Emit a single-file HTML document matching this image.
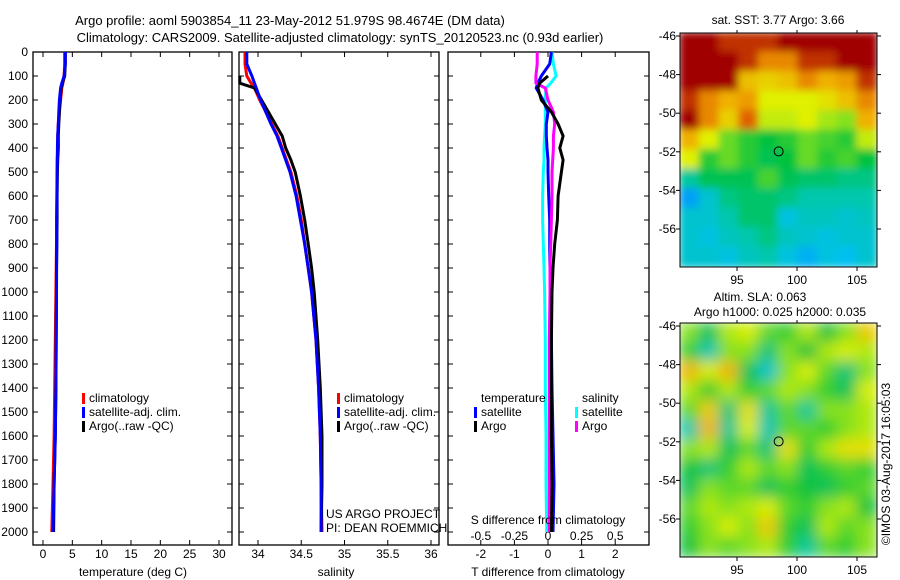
<!DOCTYPE html>
<html><head><meta charset="utf-8"><style>
html,body{margin:0;padding:0;background:#fff;}
svg{display:block;font-family:"Liberation Sans",sans-serif;}
text{font-size:12px;fill:#000;}
</style></head><body>
<svg id="c" width="900" height="580" viewBox="0 0 900 580">
<defs>
<filter id="blr1" x="0" y="0" width="1" height="1"><feGaussianBlur stdDeviation="4"/></filter>
<filter id="blr2" x="0" y="0" width="1" height="1"><feGaussianBlur stdDeviation="7"/></filter>
<clipPath id="cp1"><rect x="680" y="33" width="197" height="234"/></clipPath>
<clipPath id="cp2"><rect x="680" y="323" width="197" height="234"/></clipPath>
</defs>
<text x="290" y="25" text-anchor="middle" style="font-size:13px">Argo profile: aoml 5903854_11 23-May-2012 51.979S 98.4674E (DM data)</text>
<text x="340" y="42" text-anchor="middle" style="font-size:13px">Climatology: CARS2009. Satellite-adjusted climatology: synTS_20120523.nc (0.93d earlier)</text>
<g id="g"></g>
</svg>
<script>
const depths=[0,50,100,130,150,200,250,300,350,400,450,500,600,700,800,900,1000,1200,1400,1600,1800,2000];
const tempClim=[3.7,3.7,3.6,3.4,3.2,3.0,2.8,2.6,2.5,2.5,2.4,2.4,2.35,2.3,2.3,2.25,2.2,2.1,2.0,1.9,1.7,1.5];
const tempSat=[3.8,3.8,3.6,3.2,3.0,2.8,2.7,2.6,2.5,2.45,2.45,2.4,2.38,2.36,2.35,2.32,2.3,2.25,2.2,2.1,1.9,1.7];
const tempArgo=[3.8,3.8,3.7,3.3,3.1,2.9,2.8,2.7,2.6,2.6,2.5,2.45,2.4,2.4,2.35,2.3,2.3,2.25,2.2,2.1,1.9,1.8];
const salClim=[33.85,33.85,33.87,33.92,33.96,34.02,34.09,34.16,34.23,34.28,34.33,34.38,34.45,34.5,34.54,34.58,34.62,34.67,34.7,34.72,34.73,34.74];
const salSat=[33.87,33.87,33.93,33.96,33.98,34.03,34.09,34.15,34.22,34.27,34.32,34.37,34.44,34.49,34.54,34.58,34.62,34.67,34.7,34.72,34.73,34.73];
const salArgo=[null,null,33.79,33.79,33.96,34.04,34.12,34.2,34.28,34.32,34.38,34.43,34.49,34.54,34.58,34.62,34.65,34.69,34.72,34.74,34.74,34.73];
const tDiffSat=[0.1,0.05,-0.2,-0.3,-0.35,-0.15,0,-0.05,-0.05,-0.03,0,0,0.02,0.05,0.05,0.06,0.08,0.1,0.12,0.15,0.18,0.15];
const tDiffArgo=[null,null,0.0,-0.25,-0.3,-0.2,0.1,0.3,0.45,0.35,0.45,0.4,0.3,0.28,0.2,0.15,0.12,0.1,0.1,0.1,0.12,0.1];
const sDiffSat=[0.03,0.04,0.06,0.02,-0.015,-0.02,-0.02,-0.02,-0.025,-0.03,-0.03,-0.035,-0.04,-0.04,-0.035,-0.03,-0.025,-0.02,-0.02,-0.015,-0.015,-0.01];
const sDiffArgo=[-0.08,-0.08,-0.09,-0.09,-0.02,0.0,0.04,0.05,0.04,0.04,0.035,0.03,0.03,0.025,0.02,0.015,0.015,0.01,0.01,0.01,0.01,0.01];
const depthTicks=[0,100,200,300,400,500,600,700,800,900,1000,1100,1200,1300,1400,1500,1600,1700,1800,1900,2000];
const tempTicks=[0,5,10,15,20,25,30];
const salTicks=[34,34.5,35,35.5,36];
const salTickLabels=["34","34.5","35","35.5","36"];
const tdTicks=[-2,-1,0,1,2];
const sdTicks=[-0.5,-0.25,0,0.25,0.5];
const sdTickLabels=["-0.5","-0.25","0","0.25","0.5"];
const latTicks=[-46,-48,-50,-52,-54,-56];
const lonTicks=[95,100,105];
const sstGrid=[
[6,6,5,5,5,5.2,5.5,6,6,6],
[6,5.2,6,5,4.6,4.6,5,5,5.3,6],
[6,6,5.5,4.3,4.2,4.3,4.6,4.4,4.5,5],
[5,4.6,4.4,4.5,4,4,4,4.1,4.3,4.6],
[5.3,4.6,4.2,4.8,3.9,3.9,4,3.8,3.7,4.4],
[4.4,4,3.6,3.4,3.3,3.4,3.6,3.5,3.4,3.9],
[4,3.4,3.6,3.4,3.2,3.3,3.6,3.4,3.5,3.3],
[2.9,3.2,3.2,3.2,3.5,3.2,3.1,3.1,3,3],
[2.2,2.6,3.0,3.1,3.1,3.0,2.8,2.8,2.8,2.8],
[2.6,2.6,2.8,3.1,3.1,2.5,2.7,2.7,2.6,2.7],
[2.6,2.5,2.7,2.8,3.0,2.7,2.6,2.5,2.6,2.6],
[2.6,2.6,2.5,2.7,2.8,2.5,2.3,2.5,2.4,2.6]];
const slaGrid=[
[0.2,-0.2,0.3,0.4,0.1,0,0.3,-0.1,0.2,0.6],
[0,-0.5,0.2,0.2,-0.3,0.2,-0.1,0.3,0.4,0.3],
[0.7,0.4,0.7,-0.2,-0.6,0.2,0.4,0.1,-0.3,0.2],
[0.3,0,0.3,0,0.1,0.3,0.2,0,-0.2,0.4],
[0.1,0.6,-0.3,0.5,-0.4,0.1,-0.4,0.2,0.2,0.3],
[-0.5,0.7,-0.4,0.4,-0.5,0.1,0.1,0,0.2,0.3],
[0.2,0.3,-0.2,0.1,-0.3,0.5,0,0.3,0.5,0.5],
[-0.1,-0.3,0,0.3,0.1,0.2,-0.2,0,0.1,0],
[-0.2,0.2,0.1,0.1,-0.2,0,-0.1,-0.2,0,0.1],
[0.1,0.3,0.2,0.3,0.4,0.1,0,0.2,0.3,-0.1],
[0,0.2,0.4,0.2,0.6,0,-0.2,0.3,0.1,0.2],
[-0.1,0.2,0.1,0.2,0.3,0,-0.4,0.1,0,0.2]];
const floatLon=[98.47];
const floatLat=[-51.98];

const NS='http://www.w3.org/2000/svg';
const G=document.getElementById('g');
function mk(tag,attrs,parent){const e=document.createElementNS(NS,tag);for(const k in attrs)e.setAttribute(k,attrs[k]);(parent||G).appendChild(e);return e;}
function txt(x,y,s,anchor,parent){const t=mk('text',{x:x,y:y,'text-anchor':anchor||'start'},parent);t.textContent=s;return t;}
const yD=d=>52+d*0.24;
const xT=v=>43+v*(176/30);
const xS=v=>258+(v-34)*86.5;
const xTD=v=>548+v*33.6;
const xSD=v=>548+v*134.4;

function frame(x0,x1,name){
  const r=mk('rect',{x:x0,y:52,width:x1-x0,height:493,fill:'none',stroke:'#000','stroke-width':1.3});
  
  
  depthTicks.forEach(d=>{mk('line',{x1:x0,x2:x0+5,y1:yD(d),y2:yD(d),stroke:'#000'});mk('line',{x1:x1,x2:x1-5,y1:yD(d),y2:yD(d),stroke:'#000'});});
}
function xticks(vals,fx,labels,y){vals.forEach((v,i)=>{const x=fx(v);mk('line',{x1:x,x2:x,y1:52,y2:57,stroke:'#000'});mk('line',{x1:x,x2:x,y1:545,y2:540,stroke:'#000'});if(labels){const t=txt(x,y,labels[i],'middle');}});}
function line(vals,fx,color,name,w){
  const pts=[];vals.forEach((v,i)=>{if(v!==null)pts.push(fx(v).toFixed(1)+','+yD(depths[i]).toFixed(1));});
  const p=mk('polyline',{points:pts.join(' '),fill:'none',stroke:color,'stroke-width':w||3,'stroke-linejoin':'round'});
  
  
}
function legend(x,y,color,label){
  mk('rect',{x:x,y:y-9,width:3,height:11,fill:color});
  const t=txt(x+7,y,label);
  
  
}

frame(33,232,'temperature-panel');
depthTicks.forEach(d=>{const t=txt(28,yD(d)+4,String(d),'end');});
xticks(tempTicks,xT,tempTicks.map(String),558);
line(tempClim,xT,'#f00','temp-climatology-line');
line(tempArgo,xT,'#000','temp-argo-line');
line(tempSat,xT,'#00f','temp-satellite-line');
legend(82,402,'#f00','climatology');legend(82,416,'#00f','satellite-adj. clim.');legend(82,430,'#000','Argo(..raw -QC)');
let t=txt(133,576,'temperature (deg C)','middle');

frame(239,439,'salinity-panel');
xticks(salTicks,xS,salTickLabels,558);
line(salClim,xS,'#f00','sal-climatology-line');
line(salArgo,xS,'#000','sal-argo-line');
line(salSat,xS,'#00f','sal-satellite-line');
legend(337,402,'#f00','climatology');legend(337,416,'#00f','satellite-adj. clim.');legend(337,430,'#000','Argo(..raw -QC)');
t=txt(336,576,'salinity','middle');
t=txt(326,518,'US ARGO PROJECT');
t=txt(326,532,'PI: DEAN ROEMMICH');

frame(448,649,'difference-panel');
xticks(tdTicks,xTD,tdTicks.map(String),558);
sdTicks.forEach((v,i)=>{t=txt(xSD(v),540,sdTickLabels[i],'middle');});
line(sDiffSat,xSD,'#0ff','s-diff-satellite-line');
line(tDiffSat,xTD,'#00f','t-diff-satellite-line');
line(sDiffArgo,xSD,'#f0f','s-diff-argo-line');
line(tDiffArgo,xTD,'#000','t-diff-argo-line');
t=txt(481,402,'temperature');
t=txt(582,402,'salinity');
legend(474,416,'#00f','satellite');legend(474,430,'#000','Argo');legend(575,416,'#0ff','satellite');legend(575,430,'#f0f','Argo');
t=txt(548,524,'S difference from climatology','middle');
t=txt(548,576,'T difference from climatology','middle');

const stops=[[0,[0,0,160]],[0.15,[0,96,255]],[0.3,[0,192,240]],[0.42,[0,200,160]],[0.52,[0,192,64]],[0.62,[128,224,32]],[0.7,[224,240,0]],[0.8,[240,176,0]],[0.9,[224,96,0]],[1,[160,0,0]]];
function cmap(tv){tv=Math.max(0,Math.min(1,tv));for(let i=1;i<stops.length;i++){if(tv<=stops[i][0]){const a=stops[i-1],b=stops[i],f=(tv-a[0])/(b[0]-a[0]);const c=a[1].map((v,k)=>Math.round(v+(b[1][k]-v)*f));return 'rgb('+c.join(',')+')';}}return 'rgb(160,0,0)';}

function map(y0,grid,tf,name,clip,filt){
  const x0=680,w=197,h=234;
  const lonX=v=>x0+(v-90.25)*12.0;
  const latY=v=>y0+3+(-46-v)*19.3;
  const g=mk('g',{'clip-path':'url(#'+clip+')'});
  
  
  const gi=mk('g',{filter:'url(#'+filt+')'},g);
  mk('rect',{x:x0,y:y0,width:w,height:h,fill:cmap(tf(grid[6][5]))},gi);
  const rows=grid.length,cols=grid[0].length,cw=w/cols,ch=h/rows;
  grid.forEach((row,r)=>row.forEach((v,c)=>{
    const cell=mk('rect',{x:(x0+c*cw-1).toFixed(1),y:(y0+r*ch-1).toFixed(1),width:(cw+2).toFixed(1),height:(ch+2).toFixed(1),fill:cmap(tf(v))},gi);
    
    
  }));
  mk('rect',{x:x0,y:y0,width:w,height:h,fill:'none',stroke:'#000','stroke-width':1});
  latTicks.forEach(v=>{const y=latY(v);mk('line',{x1:x0-4,x2:x0,y1:y,y2:y,stroke:'#000'});mk('line',{x1:x0+w,x2:x0+w+4,y1:y,y2:y,stroke:'#000'});const tl=txt(676,y+4,String(v),'end');});
  lonTicks.forEach(v=>{const x=lonX(v);mk('line',{x1:x,x2:x,y1:y0+h,y2:y0+h+4,stroke:'#000'});mk('line',{x1:x,x2:x,y1:y0-3,y2:y0,stroke:'#000'});const tl=txt(x,y0+h+17,String(v),'middle');});
  const m=mk('circle',{cx:lonX(floatLon[0]),cy:latY(floatLat[0]),r:4.5,fill:'none',stroke:'#000','stroke-width':1});
  
  
}
map(33,sstGrid,v=>0.25+(v-2.2)*0.25,'sst-map','cp1','blr1');
map(323,slaGrid,v=>0.56+v*0.33,'sla-map','cp2','blr2');
t=txt(778,24,'sat. SST: 3.77 Argo: 3.66','middle');
t=txt(760,301,'Altim. SLA: 0.063','middle');
t=txt(780,316,'Argo h1000: 0.025 h2000: 0.035','middle');
t=txt(0,0,'©IMOS 03-Aug-2017 16:05:03','middle');t.setAttribute('transform','translate(890,464) rotate(-90)');
</script>
</body></html>
